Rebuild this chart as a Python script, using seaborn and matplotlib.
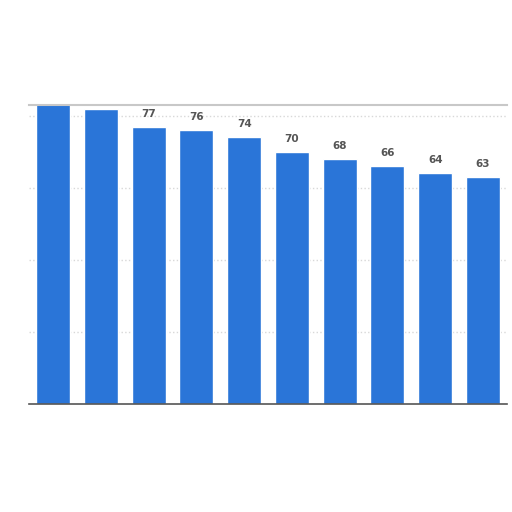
import matplotlib
matplotlib.use('Agg')
import matplotlib.pyplot as plt
import seaborn as sns
import pandas as pd

categories = ['A', 'B', 'C', 'D', 'E', 'F', 'G', 'H', 'I', 'J']
values = [84, 82, 77, 76, 74, 70, 68, 66, 64, 63]
grid_ticks = [20, 40, 60, 80]

sns.set_style('white')
plt.rcParams['font.family'] = ['DejaVu Sans']

df = pd.DataFrame({'cat': categories, 'val': values})

fig = plt.figure(figsize=(5.12, 5.12), dpi=100)
ax = fig.add_axes([0.057, 0.211, 0.933, 0.584])
sns.barplot(data=df, x='cat', y='val', color='#2a75d8', saturation=1, width=0.71, ax=ax)

ax.set_xlim(-0.5, len(categories) - 0.5)
ax.set_ylim(0, 83)
ax.set_yticks(grid_ticks)
ax.yaxis.grid(True, color='#d8d8d8', linestyle=':', linewidth=1)
ax.set_axisbelow(True)
ax.set_xticks([])
ax.set_yticklabels([])
ax.tick_params(left=False, bottom=False)
ax.set_xlabel('')
ax.set_ylabel('')

for s in ['left', 'right']:
    ax.spines[s].set_visible(False)
ax.spines['top'].set_color('#c8c8c8')
ax.spines['top'].set_linewidth(1.5)
ax.spines['bottom'].set_color('#555555')
ax.spines['bottom'].set_linewidth(1.2)

for i, v in enumerate(values):
    ax.text(i, v + 2.2, str(v), ha='center', va='bottom', fontsize=7.5,
            fontweight='bold', color='#555555', clip_on=True)

fig.savefig('out.png', dpi=100)
